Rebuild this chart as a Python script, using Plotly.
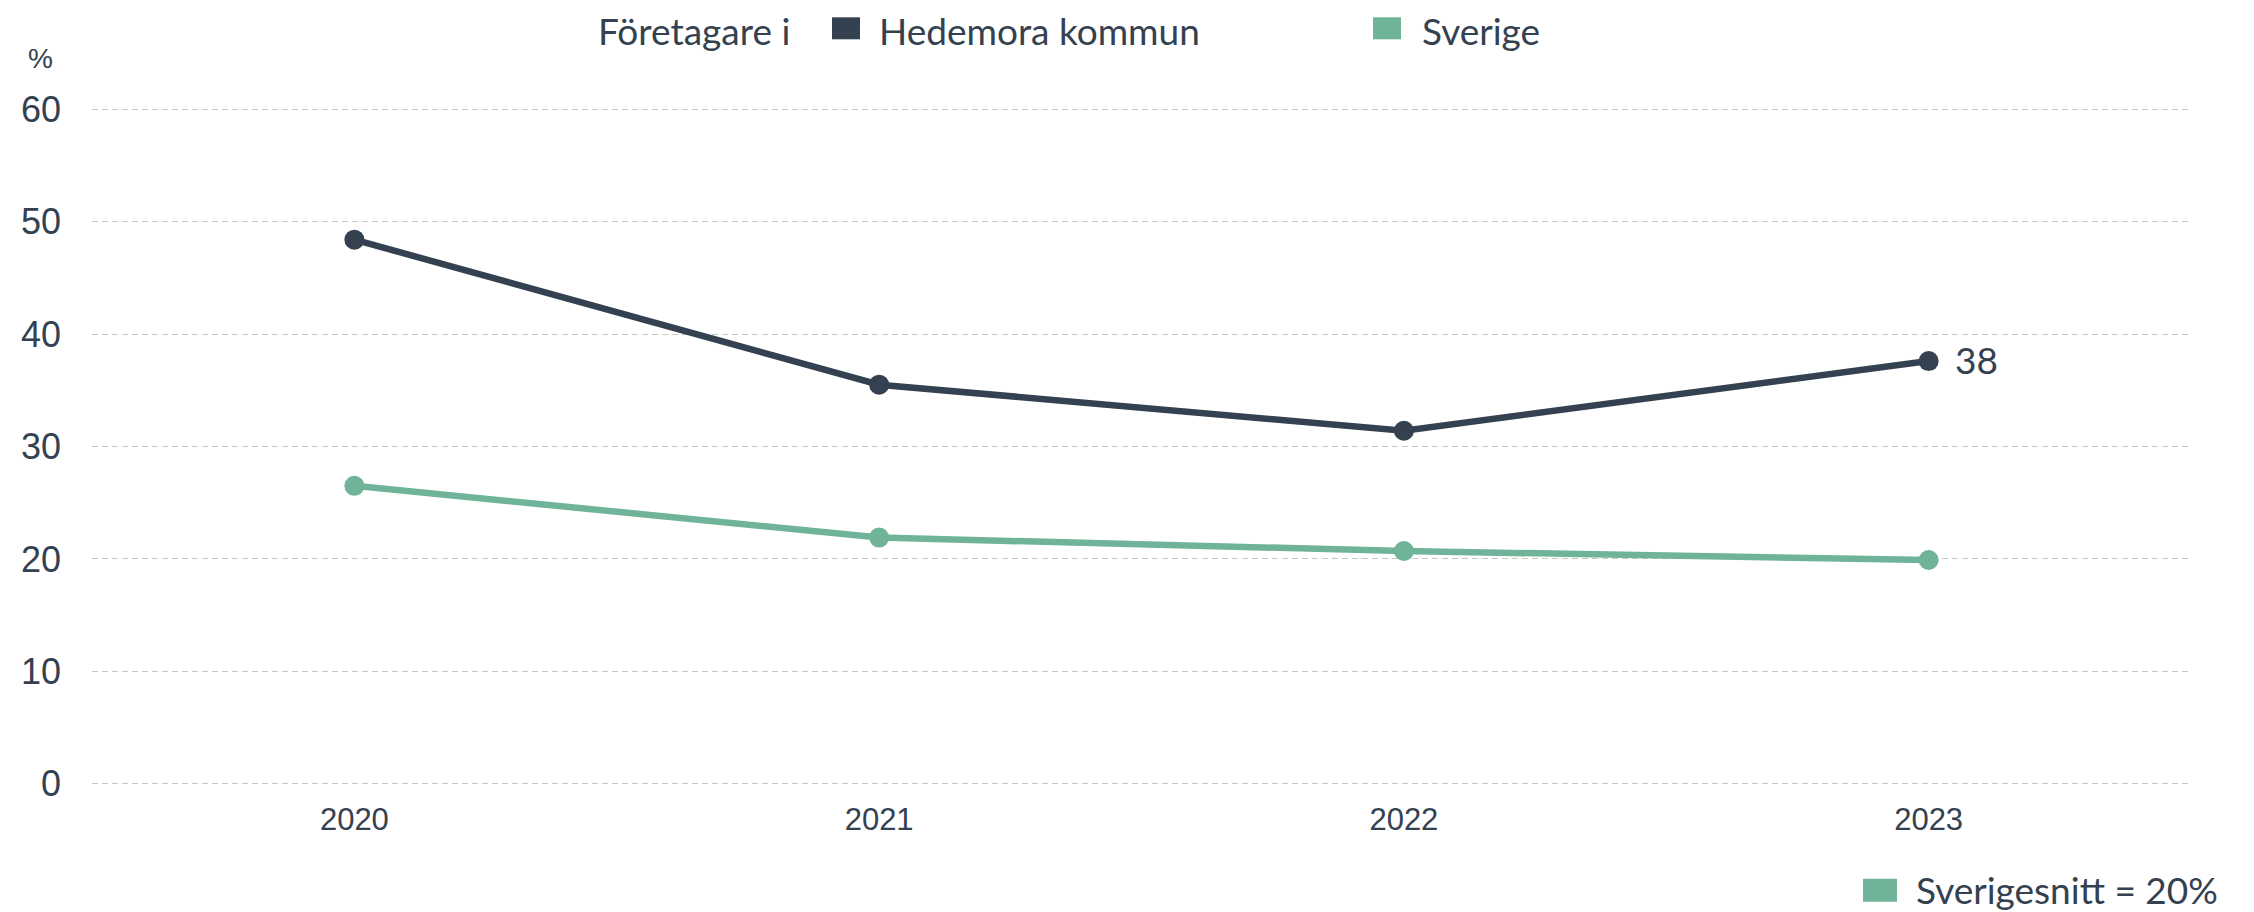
import plotly.graph_objects as go

years = ["2020", "2021", "2022", "2023"]
hedemora = [48.4, 35.5, 31.4, 37.6]
sverige = [26.5, 21.9, 20.7, 19.9]
y_ticks = [0, 10, 20, 30, 40, 50, 60]
legend_title = "Företagare i"
name_a = "Hedemora kommun"
name_b = "Sverige"
avg_label = "Sverigesnitt = 20%"
unit_label = "%"

DARK = "#344150"
GREEN = "#6fb398"
TEXT = "#344150"

W, H = 2254, 912
X0, X1 = 92, 2191
Y0, Y1 = 106.75, 786.25


def px(x):
    return (x - X0) / (X1 - X0)


def py(y):
    return (Y1 - y) / (Y1 - Y0)


fig = go.Figure()
fig.add_trace(go.Scatter(
    x=years, y=sverige, mode="lines+markers", name=name_b,
    line=dict(color=GREEN, width=6.5), marker=dict(size=20, color=GREEN),
    showlegend=False, hoverinfo="skip"))
fig.add_trace(go.Scatter(
    x=years, y=hedemora, mode="lines+markers", name=name_a,
    line=dict(color=DARK, width=6.5), marker=dict(size=20, color=DARK),
    showlegend=False, hoverinfo="skip"))

shapes = []
annotations = []

# value label at the last point of Hedemora (category index of last year)
annotations.append(dict(x=len(years) - 1, y=hedemora[-1], xref="x", yref="y",
                        text=str(round(hedemora[-1])), showarrow=False,
                        xanchor="left", yanchor="middle", xshift=24, yshift=2,
                        font=dict(family="Lato", size=37, color=TEXT)))


def swatch(x0, y0, x1, y1, color):
    shapes.append(dict(type="rect", xref="paper", yref="paper",
                       x0=px(x0), x1=px(x1), y0=py(y1), y1=py(y0),
                       fillcolor=color, line=dict(width=0), layer="above"))


def label(x, y, text, size=37, anchor="left"):
    annotations.append(dict(xref="paper", yref="paper", x=px(x), y=py(y),
                            text=text, showarrow=False, xanchor=anchor,
                            yanchor="middle",
                            font=dict(family="Lato", size=size, color=TEXT)))


# top legend
label(596, 30, legend_title)
swatch(832, 17, 860, 39, DARK)
label(877, 30, name_a)
swatch(1373, 17, 1401, 39, GREEN)
label(1420, 30, name_b)
# bottom-right average legend
swatch(1863, 879, 1897, 902, GREEN)
label(1914, 890, avg_label)
# unit label
annotations.append(dict(xref="paper", yref="paper", x=px(40), y=py(58),
                        text=unit_label, showarrow=False, xanchor="center",
                        yanchor="middle",
                        font=dict(family="Liberation Sans", size=28, color=TEXT)))

fig.update_layout(
    width=W, height=H,
    margin=dict(l=X0, r=W - X1, t=Y0, b=H - Y1),
    paper_bgcolor="white", plot_bgcolor="white",
    showlegend=False,
    shapes=shapes, annotations=annotations,
    xaxis=dict(type="category", range=[-0.5, 3.5], showgrid=False,
               showline=False, zeroline=False, ticks="",
               tickfont=dict(family="Liberation Sans", size=31, color=TEXT),
               ticklabelstandoff=12),
    yaxis=dict(range=[-0.2, 60.2], tickvals=y_ticks, showgrid=True,
               gridcolor="#c6c6c6", griddash="6px,4px", gridwidth=1,
               zeroline=False, showline=False, ticks="",
               tickfont=dict(family="Liberation Sans", size=36, color=TEXT),
               ticklabelstandoff=30),
)

fig.write_html(
    "out.html",
    config={"displayModeBar": False},
    post_script="document.body.style.margin='0';document.body.style.overflow='hidden';",
)
